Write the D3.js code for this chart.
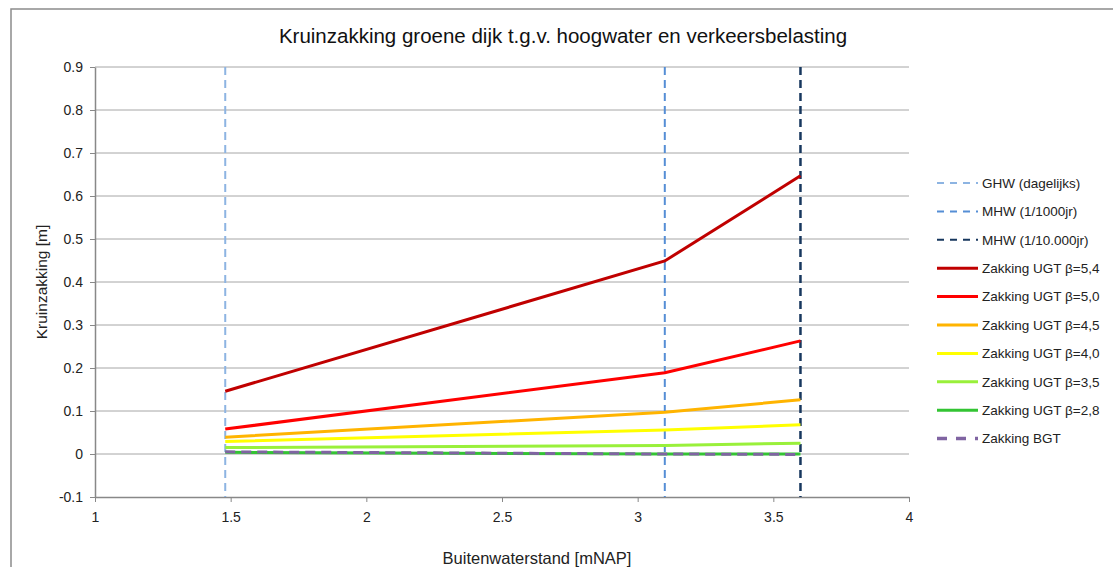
<!DOCTYPE html>
<html>
<head>
<meta charset="utf-8">
<script src="https://cdn.jsdelivr.net/npm/d3@7"></script>
<style>
  body { margin: 0; background: #fff; }
  svg { font-family: "Liberation Sans", Arial, sans-serif; }
</style>
</head>
<body>
<svg id="chart"></svg>
<script>
// water levels (x positions of the measurements)
const waterLevels = [1.48, 3.1, 3.6];

const seriesNames = [
  "Zakking UGT β=5,4", "Zakking UGT β=5,0", "Zakking UGT β=4,5",
  "Zakking UGT β=4,0", "Zakking UGT β=3,5", "Zakking UGT β=2,8", "Zakking BGT"
];
const seriesValues = [
  [0.146, 0.449, 0.647],
  [0.058, 0.189, 0.263],
  [0.039, 0.097, 0.126],
  [0.029, 0.056, 0.068],
  [0.015, 0.020, 0.025],
  [0.004, 0.000, 0.000],
  [0.005, 0.000, -0.001]
];
const seriesColors = ["#c00000", "#ff0000", "#ffb400", "#ffff00", "#99f03a", "#33c433", "#8064a2"];

const refNames = ["GHW (dagelijks)", "MHW (1/1000jr)", "MHW (1/10.000jr)"];
const refValues = [1.48, 3.1, 3.6];
const refColors = ["#8db4e2", "#558ed5", "#17375e"];

const xTicks = [1, 1.5, 2, 2.5, 3, 3.5, 4];
const yTicks = [-0.1, 0, 0.1, 0.2, 0.3, 0.4, 0.5, 0.6, 0.7, 0.8, 0.9];

const width = 1113, height = 567;
const svg = d3.select("#chart").attr("width", width).attr("height", height);

// outer chart border
svg.append("rect")
  .attr("x", 11).attr("y", 9)
  .attr("width", width + 20).attr("height", height + 20)
  .attr("fill", "none")
  .attr("stroke", "#8c8c8c")
  .attr("stroke-width", 1.5);

const x = d3.scaleLinear().domain([1, 4]).range([95, 909]);
const y = d3.scaleLinear().domain([-0.1, 0.9]).range([497, 67]);

// gridlines
svg.append("g")
  .selectAll("line")
  .data(yTicks.slice(1))
  .join("line")
  .attr("x1", x(1)).attr("x2", x(4))
  .attr("y1", d => y(d)).attr("y2", d => y(d))
  .attr("stroke", "#a6a6a6")
  .attr("stroke-width", 1);

// axes
const yAxis = svg.append("g")
  .attr("transform", `translate(${x(1)},0)`)
  .call(d3.axisLeft(y).tickValues(yTicks).tickSize(5).tickSizeOuter(0)
    .tickFormat(d => String(+d.toFixed(1))));
const xAxis = svg.append("g")
  .attr("transform", `translate(0,${y(-0.1)})`)
  .call(d3.axisBottom(x).tickValues(xTicks).tickSize(5).tickSizeOuter(0)
    .tickFormat(d => String(d)));

[yAxis, xAxis].forEach(a => {
  a.select(".domain").attr("stroke", "#888").attr("stroke-width", 1.5);
  a.selectAll(".tick line").attr("stroke", "#888");
  a.selectAll(".tick text").attr("fill", "#222").style("font-size", "14px")
    .style("font-family", "'Liberation Sans', Arial, sans-serif");
});
yAxis.selectAll(".tick text").attr("x", -12);
xAxis.selectAll(".tick text").attr("y", 15);

// reference water levels
svg.append("g")
  .selectAll("line")
  .data(refValues)
  .join("line")
  .attr("x1", d => x(d)).attr("x2", d => x(d))
  .attr("y1", y(0.9)).attr("y2", y(-0.1))
  .attr("stroke", (d, i) => refColors[i])
  .attr("stroke-width", (d, i) => i === 2 ? 2.5 : 2)
  .attr("stroke-dasharray", "8,5");

// series
const line = d3.line()
  .x((d, i) => x(waterLevels[i]))
  .y(d => y(d));

svg.append("g")
  .selectAll("path")
  .data(seriesValues)
  .join("path")
  .attr("d", line)
  .attr("fill", "none")
  .attr("stroke", (d, i) => seriesColors[i])
  .attr("stroke-width", 3)
  .attr("stroke-dasharray", (d, i) => i === 6 ? "10,6" : null);

// title and axis labels
svg.append("text")
  .attr("x", 563).attr("y", 43)
  .attr("text-anchor", "middle")
  .style("font-size", "20.5px")
  .attr("fill", "#111")
  .text("Kruinzakking groene dijk t.g.v. hoogwater en verkeersbelasting");

svg.append("text")
  .attr("transform", "translate(47,282) rotate(-90)")
  .attr("text-anchor", "middle")
  .style("font-size", "15.5px")
  .attr("fill", "#222")
  .text("Kruinzakking [m]");

svg.append("text")
  .attr("x", 537).attr("y", 564)
  .attr("text-anchor", "middle")
  .style("font-size", "16.5px")
  .attr("fill", "#222")
  .text("Buitenwaterstand [mNAP]");

// legend
const legendItems = refNames.map((n, i) => ({ name: n, color: refColors[i], dash: "7,6", w: 2 }))
  .concat(seriesNames.map((n, i) => ({ name: n, color: seriesColors[i], dash: i === 6 ? "10,9" : null, w: i === 6 ? 3.5 : 3 })));

const legend = svg.append("g").attr("transform", "translate(937,183)");
const rows = legend.selectAll("g")
  .data(legendItems)
  .join("g")
  .attr("transform", (d, i) => `translate(0,${i * 28.4})`);

rows.append("line")
  .attr("x1", 0).attr("x2", 41)
  .attr("stroke", d => d.color)
  .attr("stroke-width", d => d.w)
  .attr("stroke-dasharray", d => d.dash);

rows.append("text")
  .attr("x", 45).attr("dy", "0.35em")
  .style("font-size", "13.5px")
  .attr("fill", "#222")
  .text(d => d.name);
</script>
</body>
</html>
